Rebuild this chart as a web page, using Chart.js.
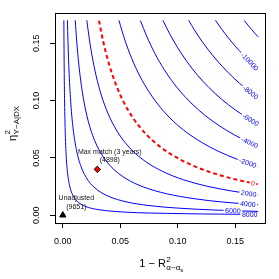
<!DOCTYPE html>
<html><head><meta charset="utf-8">
<script src="https://cdn.jsdelivr.net/npm/chart.js@4/dist/chart.umd.min.js"></script>
<style>html,body{margin:0;padding:0;background:#fff}canvas{display:block}</style>
</head><body>
<canvas id="c" width="279" height="279"></canvas>
<script>
// ---------- data ----------
const xTicks = [0, 0.05, 0.10, 0.15];
const yTicks = [0, 0.05, 0.10, 0.15];
const contourLevels = [8000, 6000, 4000, 2000, 0, -2000, -4000, -6000, -8000, -10000, -12000];

const level_8000 = [[0.0009,0.1699],[0.001,0.1528],[0.0012,0.1274],[0.0015,0.1019],[0.002,0.0764],[0.003,0.0505],[0.004,0.0381],[0.006,0.0254],[0.008,0.0189],[0.011,0.0138],[0.015,0.0101],[0.02,0.0075],[0.03,0.0050],[0.045,0.0033],[0.065,0.0022],[0.09,0.0016],[0.12,0.0011],[0.17,0.0007]];
const level_6000 = [[0.004,0.1700],[0.0045,0.1511],[0.0055,0.1235],[0.007,0.0969],[0.009,0.0752],[0.012,0.0562],[0.016,0.0420],[0.022,0.0304],[0.03,0.0221],[0.04,0.0164],[0.055,0.0117],[0.075,0.0084],[0.1,0.0062],[0.13,0.0046],[0.17,0.0033]];
const level_4000 = [[0.0108,0.1700],[0.012,0.1528],[0.014,0.1307],[0.017,0.1073],[0.021,0.0865],[0.026,0.0695],[0.033,0.0544],[0.042,0.0423],[0.055,0.0319],[0.07,0.0247],[0.09,0.0188],[0.115,0.0143],[0.14,0.0114],[0.17,0.0091]];
const level_2000 = [[0.0209,0.1700],[0.023,0.1542],[0.026,0.1360],[0.03,0.1173],[0.035,0.1001],[0.041,0.0849],[0.05,0.0690],[0.06,0.0569],[0.072,0.0468],[0.087,0.0381],[0.105,0.0309],[0.125,0.0254],[0.147,0.0211],[0.17,0.0177]];
const level_0 = [[0.0315,0.1697],[0.035,0.1522],[0.04,0.1325],[0.046,0.1145],[0.053,0.0986],[0.062,0.0835],[0.073,0.0701],[0.086,0.0587],[0.1,0.0497],[0.117,0.0417],[0.135,0.0354],[0.152,0.0308],[0.17,0.0270]];
const level_m2000 = [[0.0488,0.1700],[0.054,0.1528],[0.06,0.1366],[0.067,0.1214],[0.075,0.1076],[0.085,0.0939],[0.096,0.0821],[0.108,0.0720],[0.121,0.0634],[0.135,0.0559],[0.152,0.0487],[0.17,0.0426]];
const level_m4000 = [[0.0675,0.1698],[0.073,0.1561],[0.08,0.1413],[0.088,0.1274],[0.097,0.1144],[0.107,0.1026],[0.118,0.0919],[0.13,0.0823],[0.143,0.0737],[0.156,0.0665],[0.17,0.0600]];
const level_m6000 = [[0.0871,0.1700],[0.093,0.1582],[0.1,0.1460],[0.108,0.1340],[0.117,0.1224],[0.127,0.1115],[0.138,0.1013],[0.15,0.0919],[0.16,0.0852],[0.17,0.0792]];
const level_m8000 = [[0.1095,0.1700],[0.115,0.1608],[0.122,0.1504],[0.13,0.1399],[0.139,0.1295],[0.149,0.1194],[0.159,0.1106],[0.17,0.1020]];
const level_m10000 = [[0.1328,0.1700],[0.138,0.1626],[0.144,0.1547],[0.15,0.1475],[0.157,0.1398],[0.163,0.1337],[0.17,0.1271]];
const level_m12000 = [[0.1578,0.1699],[0.161,0.1659],[0.164,0.1623],[0.167,0.1588],[0.17,0.1555]];

const unadjustedPoint = [0, 0];
const unadjustedValue = 9651;
const maxMatchPoint = [0.03, 0.04];
const maxMatchValue = 4898;
const maxMatchName = "Max match (3 years)";
const unadjustedName = "Unadjusted";

// ---------- presentation ----------
const FONT = '"Liberation Sans", Arial, Helvetica, sans-serif';
const contourSeries = [level_8000, level_6000, level_4000, level_2000, level_0, level_m2000, level_m4000, level_m6000, level_m8000, level_m10000, level_m12000];
// x position (data units) along each contour where its label sits
const labelAt = {"-10000":0.1626, "-8000":0.1634, "-6000":0.1634, "-4000":0.1626, "-2000":0.161, "0":0.1655, "2000":0.1617, "4000":0.161, "6000":0.148, "8000":0.1626};

const datasets = contourLevels.map((lev, i) => ({
  level: lev,
  data: contourSeries[i].map(p => ({x:p[0], y:p[1]})),
  showLine: true,
  borderColor: lev === 0 ? '#ff0000' : '#0000ff',
  borderWidth: lev === 0 ? 2 : 1,
  borderDash: lev === 0 ? [4,3] : [],
  pointRadius: 0,
  cubicInterpolationMode: 'monotone',
  fill: false
}));
datasets.push({
  data: [{x:unadjustedPoint[0], y:unadjustedPoint[1]}],
  pointStyle: 'triangle', pointRadius: 3.6, backgroundColor: '#000', borderColor: '#000', borderWidth: 1, showLine:false
});
datasets.push({
  data: [{x:maxMatchPoint[0], y:maxMatchPoint[1]}],
  pointStyle: 'rectRot', pointRadius: 3.2, backgroundColor: '#ff0000', borderColor: '#000', borderWidth: 1, showLine:false
});

function labelGeom(chart, idx) {
  const ds = chart.data.datasets[idx];
  const key = String(ds.level);
  if (!(key in labelAt)) return null;
  const xs = chart.scales.x;
  const pts = chart.getDatasetMeta(idx).data;
  const px = xs.getPixelForValue(labelAt[key]);
  let i = 0;
  while (i < pts.length - 2 && pts[i+1].x < px) i++;
  const a = pts[i], b = pts[i+1];
  const t = (px - a.x) / (b.x - a.x);
  const py = a.y + t * (b.y - a.y);
  const ang = Math.atan2(b.y - a.y, b.x - a.x);
  const ctx = chart.ctx;
  ctx.save();
  ctx.font = '7px ' + FONT;
  const w = ctx.measureText(key).width;
  ctx.restore();
  return {cx: px, cy: py, ang, hw: w/2 + 1.5, hh: 3.2, text: key, color: ds.borderColor};
}

const contourLabels = {
  id: 'contourLabels',
  beforeDatasetDraw(chart, args) {
    const ds = chart.data.datasets[args.index];
    if (ds.level === undefined) return;
    const g = labelGeom(chart, args.index);
    ds._lab = g;
    const ctx = chart.ctx;
    ctx.save();
    if (!g) return;
    ctx.beginPath();
    ctx.rect(0, 0, chart.width, chart.height);
    const c = Math.cos(g.ang), s = Math.sin(g.ang);
    const corners = [[-g.hw,-g.hh],[g.hw,-g.hh],[g.hw,g.hh],[-g.hw,g.hh]].map(([u,v]) => [g.cx + u*c - v*s, g.cy + u*s + v*c]);
    ctx.moveTo(corners[0][0], corners[0][1]);
    for (let k = 1; k < 4; k++) ctx.lineTo(corners[k][0], corners[k][1]);
    ctx.closePath();
    ctx.clip('evenodd');
  },
  afterDatasetDraw(chart, args) {
    const ds = chart.data.datasets[args.index];
    if (ds.level === undefined) return;
    const ctx = chart.ctx;
    ctx.restore();
    const g = ds._lab;
    if (!g) return;
    ctx.save();
    ctx.translate(g.cx, g.cy);
    ctx.rotate(g.ang);
    ctx.font = '7px ' + FONT;
    ctx.fillStyle = g.color;
    ctx.textAlign = 'center';
    ctx.textBaseline = 'middle';
    ctx.fillText(g.text, 0, 0.5);
    ctx.restore();
  }
};

const decorations = {
  id: 'decorations',
  afterDraw(chart) {
    const ctx = chart.ctx, ca = chart.chartArea, xs = chart.scales.x, ys = chart.scales.y;
    ctx.save();
    // box
    ctx.strokeStyle = '#000'; ctx.lineWidth = 1;
    ctx.strokeRect(Math.round(ca.left) + 0.5, Math.round(ca.top) + 0.5, Math.round(ca.right - ca.left) - 1, Math.round(ca.bottom - ca.top) - 1);
    // y tick labels (rotated, R style)
    ctx.fillStyle = '#000';
    ctx.font = '9px ' + FONT;
    ctx.textAlign = 'center'; ctx.textBaseline = 'middle';
    yTicks.forEach(v => {
      const py = ys.getPixelForValue(v);
      ctx.save(); ctx.translate(37, py); ctx.rotate(-Math.PI/2);
      ctx.fillText(v.toFixed(2), 0, 0);
      ctx.restore();
    });
    // annotations
    ctx.font = '7px ' + FONT; ctx.fillStyle = '#111';
    ctx.textAlign = 'center'; ctx.textBaseline = 'middle';
    const ax = xs.getPixelForValue(maxMatchPoint[0]) + 12.5;
    const ay = ys.getPixelForValue(maxMatchPoint[1]);
    ctx.fillText(maxMatchName, ax, ay - 17.5);
    ctx.fillText('(' + maxMatchValue + ')', ax, ay - 8.8);
    const ux = xs.getPixelForValue(unadjustedPoint[0]) + 13.5;
    const uy = ys.getPixelForValue(unadjustedPoint[1]);
    ctx.fillText(unadjustedName, ux, uy - 17);
    ctx.fillText('(' + unadjustedValue + ')', ux, uy - 8.6);
    // x axis title: 1 − R²_{α~α_s}
    ctx.textAlign = 'left'; ctx.textBaseline = 'alphabetic'; ctx.fillStyle = '#000';
    const base = 'Liberation Sans';
    const parts = [
      {t:'1 \u2212 R', f:11, dy:0},
    ];
    ctx.font = '11px ' + FONT; const w1 = ctx.measureText('1 \u2212 R').width;
    ctx.font = '8px ' + FONT; const w2 = ctx.measureText('\u03B1~\u03B1').width;
    ctx.font = '6px ' + FONT; const w3 = ctx.measureText('s').width;
    const total = w1 + w2 + w3 + 1;
    let x0 = (ca.left + ca.right) / 2 - total / 2 + 1;
    const by = 267;
    ctx.font = '11px ' + FONT; ctx.fillText('1 \u2212 R', x0, by);
    ctx.font = '8px ' + FONT; ctx.fillText('2', x0 + w1 + 0.5, by - 5);
    ctx.fillText('\u03B1~\u03B1', x0 + w1 + 0.5, by + 3);
    ctx.font = '6px ' + FONT; ctx.fillText('s', x0 + w1 + 0.5 + w2, by + 5);
    // y axis title: η²_{Y~A|DX}
    ctx.save();
    ctx.translate(15.5, 141);
    ctx.rotate(-Math.PI/2);
    ctx.font = '11px ' + FONT; ctx.fillText('\u03B7', 0, 0);
    const we = ctx.measureText('\u03B7').width;
    ctx.font = '8px ' + FONT;
    ctx.fillText('2', we + 0.5, -5.5);
    ctx.fillText('Y~A|DX', we + 0.5, 3);
    ctx.restore();
    ctx.restore();
  }
};

new Chart(document.getElementById('c'), {
  type: 'scatter',
  data: { datasets },
  options: {
    responsive: false,
    animation: false,
    devicePixelRatio: 1,
    layout: { padding: { top: 12.5, right: 13, left: 0, bottom: 0 } },
    plugins: { legend: { display: false }, tooltip: { enabled: false } },
    elements: { line: { tension: 0 } },
    scales: {
      x: {
        type: 'linear', min: -0.0068, max: 0.1768,
        afterBuildTicks: s => { s.ticks = xTicks.map(v => ({ value: v })); },
        afterFit: s => { s.height = 56; },
        border: { display: false },
        grid: { display: true, drawOnChartArea: false, drawTicks: true, tickLength: 5, color: '#000', lineWidth: 1 },
        ticks: { font: { size: 9, family: FONT }, color: '#000', padding: 8, maxRotation: 0, autoSkip: false, callback: v => Number(v).toFixed(2) }
      },
      y: {
        type: 'linear', min: -0.0068, max: 0.1768,
        afterBuildTicks: s => { s.ticks = yTicks.map(v => ({ value: v })); },
        afterFit: s => { s.width = 55; },
        border: { display: false },
        grid: { display: true, drawOnChartArea: false, drawTicks: true, tickLength: 5, color: '#000', lineWidth: 1 },
        ticks: { display: false }
      }
    }
  },
  plugins: [contourLabels, decorations]
});
</script>
</body></html>
